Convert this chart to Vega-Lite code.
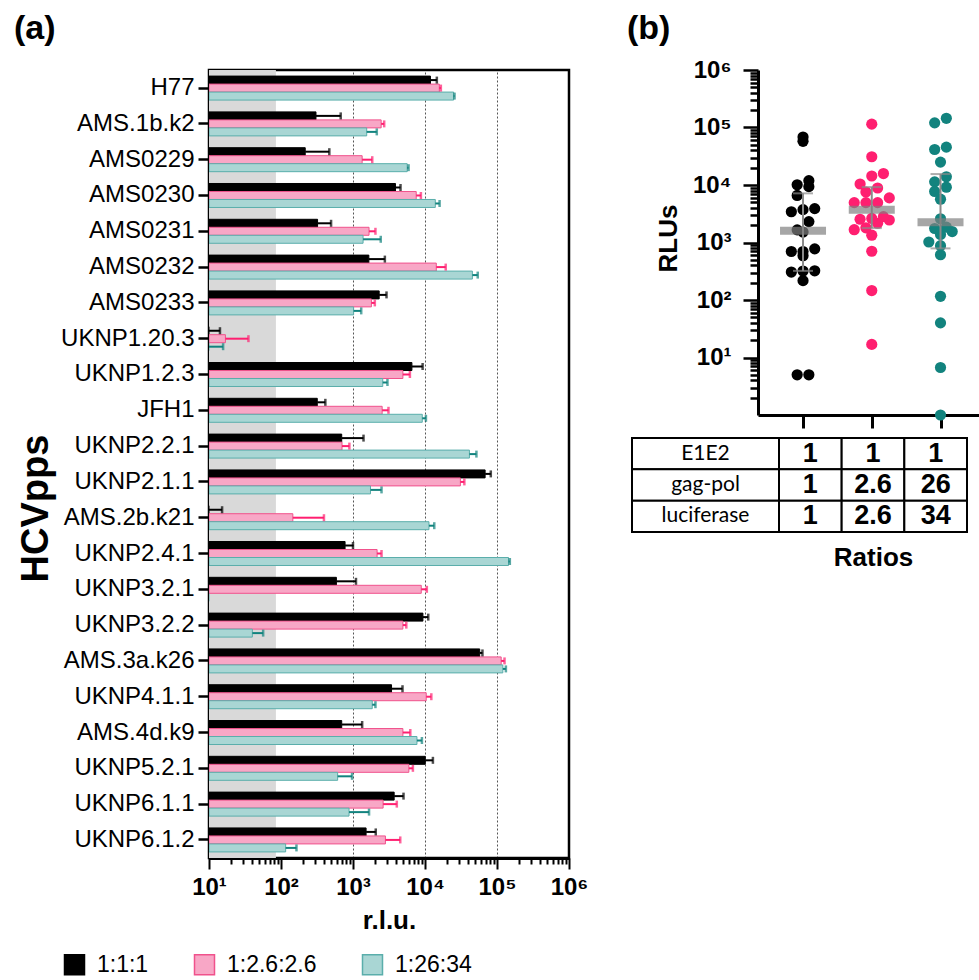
{
  "$schema": "https://vega.github.io/schema/vega-lite/v6.json",
  "padding": {"left": 12, "top": 10, "right": 0, "bottom": 0},
  "background": "white",
  "config": {"view": {"stroke": null}, "font": "Liberation Sans"},
  "datasets": {
    "hcv": [
      {"virus": "H77", "ratio": "1:1:1", "mean": 11900, "upper": 14600},
      {"virus": "H77", "ratio": "1:2.6:2.6", "mean": 15800, "upper": 16600},
      {"virus": "H77", "ratio": "1:26:34", "mean": 25000, "upper": 25700},
      {"virus": "AMS.1b.k2", "ratio": "1:1:1", "mean": 306, "upper": 675},
      {"virus": "AMS.1b.k2", "ratio": "1:2.6:2.6", "mean": 2460, "upper": 2710},
      {"virus": "AMS.1b.k2", "ratio": "1:26:34", "mean": 1550, "upper": 2140},
      {"virus": "AMS0229", "ratio": "1:1:1", "mean": 217, "upper": 469},
      {"virus": "AMS0229", "ratio": "1:2.6:2.6", "mean": 1340, "upper": 1850},
      {"virus": "AMS0229", "ratio": "1:26:34", "mean": 5660, "upper": 5910},
      {"virus": "AMS0230", "ratio": "1:1:1", "mean": 3890, "upper": 4570},
      {"virus": "AMS0230", "ratio": "1:2.6:2.6", "mean": 7550, "upper": 8770},
      {"virus": "AMS0230", "ratio": "1:26:34", "mean": 13900, "upper": 15950},
      {"virus": "AMS0231", "ratio": "1:1:1", "mean": 322, "upper": 496},
      {"virus": "AMS0231", "ratio": "1:2.6:2.6", "mean": 1670, "upper": 2050},
      {"virus": "AMS0231", "ratio": "1:26:34", "mean": 1380, "upper": 2430},
      {"virus": "AMS0232", "ratio": "1:1:1", "mean": 1660, "upper": 2770},
      {"virus": "AMS0232", "ratio": "1:2.6:2.6", "mean": 14350, "upper": 19400},
      {"virus": "AMS0232", "ratio": "1:26:34", "mean": 45500, "upper": 54000},
      {"virus": "AMS0233", "ratio": "1:1:1", "mean": 2310, "upper": 2920},
      {"virus": "AMS0233", "ratio": "1:2.6:2.6", "mean": 1800, "upper": 2010},
      {"virus": "AMS0233", "ratio": "1:26:34", "mean": 1020, "upper": 1300},
      {"virus": "UKNP1.20.3", "ratio": "1:1:1", "mean": 5, "upper": 14.2},
      {"virus": "UKNP1.20.3", "ratio": "1:2.6:2.6", "mean": 16.9, "upper": 35.3},
      {"virus": "UKNP1.20.3", "ratio": "1:26:34", "mean": 6.7, "upper": 15.7},
      {"virus": "UKNP1.2.3", "ratio": "1:1:1", "mean": 6580, "upper": 9270},
      {"virus": "UKNP1.2.3", "ratio": "1:2.6:2.6", "mean": 4930, "upper": 6170},
      {"virus": "UKNP1.2.3", "ratio": "1:26:34", "mean": 2590, "upper": 3010},
      {"virus": "JFH1", "ratio": "1:1:1", "mean": 319, "upper": 413},
      {"virus": "JFH1", "ratio": "1:2.6:2.6", "mean": 2540, "upper": 3110},
      {"virus": "JFH1", "ratio": "1:26:34", "mean": 9160, "upper": 10300},
      {"virus": "UKNP2.2.1", "ratio": "1:1:1", "mean": 697, "upper": 1400},
      {"virus": "UKNP2.2.1", "ratio": "1:2.6:2.6", "mean": 704, "upper": 891},
      {"virus": "UKNP2.2.1", "ratio": "1:26:34", "mean": 41400, "upper": 51800},
      {"virus": "UKNP2.1.1", "ratio": "1:1:1", "mean": 68400, "upper": 82000},
      {"virus": "UKNP2.1.1", "ratio": "1:2.6:2.6", "mean": 31000, "upper": 35200},
      {"virus": "UKNP2.1.1", "ratio": "1:26:34", "mean": 1750, "upper": 2490},
      {"virus": "AMS.2b.k21", "ratio": "1:1:1", "mean": 5, "upper": 15.2},
      {"virus": "AMS.2b.k21", "ratio": "1:2.6:2.6", "mean": 146, "upper": 395},
      {"virus": "AMS.2b.k21", "ratio": "1:26:34", "mean": 11350, "upper": 13450},
      {"virus": "UKNP2.4.1", "ratio": "1:1:1", "mean": 776, "upper": 1000},
      {"virus": "UKNP2.4.1", "ratio": "1:2.6:2.6", "mean": 2160, "upper": 2490},
      {"virus": "UKNP2.4.1", "ratio": "1:26:34", "mean": 144500, "upper": 150700},
      {"virus": "UKNP3.2.1", "ratio": "1:1:1", "mean": 588, "upper": 1100},
      {"virus": "UKNP3.2.1", "ratio": "1:2.6:2.6", "mean": 8870, "upper": 10600},
      {"virus": "UKNP3.2.1", "ratio": "1:26:34", "mean": 1, "upper": 1},
      {"virus": "UKNP3.2.2", "ratio": "1:1:1", "mean": 9360, "upper": 11100},
      {"virus": "UKNP3.2.2", "ratio": "1:2.6:2.6", "mean": 4930, "upper": 5500},
      {"virus": "UKNP3.2.2", "ratio": "1:26:34", "mean": 40, "upper": 56.5},
      {"virus": "AMS.3a.k26", "ratio": "1:1:1", "mean": 57500, "upper": 62800},
      {"virus": "AMS.3a.k26", "ratio": "1:2.6:2.6", "mean": 114300, "upper": 127200},
      {"virus": "AMS.3a.k26", "ratio": "1:26:34", "mean": 120500, "upper": 132900},
      {"virus": "UKNP4.1.1", "ratio": "1:1:1", "mean": 3430, "upper": 4870},
      {"virus": "UKNP4.1.1", "ratio": "1:2.6:2.6", "mean": 10400, "upper": 12240},
      {"virus": "UKNP4.1.1", "ratio": "1:26:34", "mean": 1850, "upper": 2050},
      {"virus": "AMS.4d.k9", "ratio": "1:1:1", "mean": 697, "upper": 1340},
      {"virus": "AMS.4d.k9", "ratio": "1:2.6:2.6", "mean": 4930, "upper": 6250},
      {"virus": "AMS.4d.k9", "ratio": "1:26:34", "mean": 7730, "upper": 9060},
      {"virus": "UKNP5.2.1", "ratio": "1:1:1", "mean": 10090, "upper": 12880},
      {"virus": "UKNP5.2.1", "ratio": "1:2.6:2.6", "mean": 5970, "upper": 6790},
      {"virus": "UKNP5.2.1", "ratio": "1:26:34", "mean": 612, "upper": 970},
      {"virus": "UKNP6.1.1", "ratio": "1:1:1", "mean": 3730, "upper": 5030},
      {"virus": "UKNP6.1.1", "ratio": "1:2.6:2.6", "mean": 2620, "upper": 4060},
      {"virus": "UKNP6.1.1", "ratio": "1:26:34", "mean": 881, "upper": 1670},
      {"virus": "UKNP6.1.2", "ratio": "1:1:1", "mean": 1520, "upper": 2070},
      {"virus": "UKNP6.1.2", "ratio": "1:2.6:2.6", "mean": 2820, "upper": 4530},
      {"virus": "UKNP6.1.2", "ratio": "1:26:34", "mean": 116, "upper": 164}
    ],
    "bg": [{"lo": 10, "hi": 85}],
    "summary": [
      {"ratio": "1:1:1", "med": 1600, "q1": 321, "q3": 7160},
      {"ratio": "1:2.6:2.6", "med": 3720, "q1": 1780, "q3": 9200},
      {"ratio": "1:26:34", "med": 2240, "q1": 790, "q3": 15500}
    ],
    "table": [
      {"row": "E1E2", "col": "1:1:1", "val": "1"},
      {"row": "E1E2", "col": "1:2.6:2.6", "val": "1"},
      {"row": "E1E2", "col": "1:26:34", "val": "1"},
      {"row": "gag-pol", "col": "1:1:1", "val": "1"},
      {"row": "gag-pol", "col": "1:2.6:2.6", "val": "2.6"},
      {"row": "gag-pol", "col": "1:26:34", "val": "26"},
      {"row": "luciferase", "col": "1:1:1", "val": "1"},
      {"row": "luciferase", "col": "1:2.6:2.6", "val": "2.6"},
      {"row": "luciferase", "col": "1:26:34", "val": "34"}
    ]
  },
  "bounds": "flush",
  "spacing": 63,
  "hconcat": [
    {
      "width": 360,
      "height": 788,
      "view": {"stroke": "black", "strokeWidth": 2.5},
      "title": {"text": "(a)", "anchor": "start", "frame": "group", "dx": -195, "offset": -3, "fontSize": 34, "fontWeight": "bold", "font": "Liberation Sans", "color": "black", "baseline": "alphabetic"},
      "layer": [
        {
          "data": {"name": "bg"},
          "mark": {"type": "rect", "color": "#d9d9d9"},
          "encoding": {
            "x": {"field": "lo", "type": "quantitative", "scale": {"type": "log", "domain": [10, 1000000]},
              "axis": {
                "title": "r.l.u.", "titleFontSize": 26, "titleFontWeight": "bold", "titleColor": "black", "titlePadding": 8,
                "values": [10,20,30,40,50,60,70,80,90,100,200,300,400,500,600,700,800,900,1000,2000,3000,4000,5000,6000,7000,8000,9000,10000,20000,30000,40000,50000,60000,70000,80000,90000,100000,200000,300000,400000,500000,600000,700000,800000,900000,1000000],
                "labelExpr": "abs(log(datum.value)/LN10 - round(log(datum.value)/LN10)) < 0.001 ? '10' + ['⁰','¹','²','³','⁴','⁵','⁶'][round(log(datum.value)/LN10)] : ''",
                "labelFontSize": 24, "labelFontWeight": "bold", "labelColor": "black", "labelOverlap": false, "labelFlush": false, "labelBound": false, "labelPadding": 6,
                "tickSize": {"condition": {"test": "abs(log(datum.value)/LN10 - round(log(datum.value)/LN10)) < 0.001", "value": 11}, "value": 6},
                "tickWidth": 2, "tickColor": "black", "domainWidth": 3, "domainColor": "black",
                "grid": true, "gridColor": "#555555", "gridDash": [2, 2], "gridWidth": 1,
                "gridOpacity": {"condition": {"test": "(datum.value == 1000 || datum.value == 10000 || datum.value == 100000)", "value": 1}, "value": 0}
              }},
            "x2": {"field": "hi"}
          }
        },
        {
          "data": {"name": "hcv"},
          "mark": {"type": "bar", "clip": true, "strokeWidth": 1},
          "encoding": {
            "y": {"field": "virus", "type": "nominal", "sort": null,
              "scale": {"paddingInner": 0.33, "paddingOuter": 0.17},
              "axis": {"title": "HCVpps", "titleFontSize": 38, "titleFontWeight": "bold", "titleFont": "Liberation Sans", "titleColor": "black", "titleX": -162, "titleY": 438, "titleAngle": -90, "titleAlign": "center", "titleBaseline": "alphabetic",
                "labelFontSize": 24, "labelFont": "Liberation Sans", "labelColor": "black", "labelPadding": 4, "tickSize": 11, "tickWidth": 2.5, "tickColor": "black", "domainWidth": 3, "domainColor": "black", "labelLimit": 300}},
            "yOffset": {"field": "ratio", "type": "nominal", "sort": ["1:1:1", "1:2.6:2.6", "1:26:34"], "scale": {"paddingInner": 0, "paddingOuter": 0}},
            "x": {"field": "mean", "type": "quantitative", "scale": {"type": "log", "domain": [10, 1000000]},
              "axis": {
                "title": "r.l.u.", "titleFontSize": 26, "titleFontWeight": "bold", "titleColor": "black", "titlePadding": 8,
                "values": [10,20,30,40,50,60,70,80,90,100,200,300,400,500,600,700,800,900,1000,2000,3000,4000,5000,6000,7000,8000,9000,10000,20000,30000,40000,50000,60000,70000,80000,90000,100000,200000,300000,400000,500000,600000,700000,800000,900000,1000000],
                "labelExpr": "abs(log(datum.value)/LN10 - round(log(datum.value)/LN10)) < 0.001 ? '10' + ['⁰','¹','²','³','⁴','⁵','⁶'][round(log(datum.value)/LN10)] : ''",
                "labelFontSize": 24, "labelFontWeight": "bold", "labelColor": "black", "labelOverlap": false, "labelFlush": false, "labelBound": false, "labelPadding": 6,
                "tickSize": {"condition": {"test": "abs(log(datum.value)/LN10 - round(log(datum.value)/LN10)) < 0.001", "value": 11}, "value": 6},
                "tickWidth": 2, "tickColor": "black", "domainWidth": 3, "domainColor": "black",
                "grid": true, "gridColor": "#555555", "gridDash": [2, 2], "gridWidth": 1,
                "gridOpacity": {"condition": {"test": "(datum.value == 1000 || datum.value == 10000 || datum.value == 100000)", "value": 1}, "value": 0}
              }},
            "x2": {"datum": 10},
            "fill": {"field": "ratio", "type": "nominal", "sort": ["1:1:1", "1:2.6:2.6", "1:26:34"],
              "scale": {"domain": ["1:1:1", "1:2.6:2.6", "1:26:34"], "range": ["#000000", "#f8a7c6", "#a9d6d4"]},
              "legend": {"orient": "none", "legendX": -146, "legendY": 883, "direction": "horizontal", "title": null, "symbolType": "square", "symbolSize": 400, "symbolStrokeWidth": 1.5, "labelFontSize": 23, "labelFont": "Liberation Sans", "labelColor": "black", "columnPadding": 42, "labelOffset": 11}},
            "stroke": {"field": "ratio", "type": "nominal", "sort": ["1:1:1", "1:2.6:2.6", "1:26:34"],
              "scale": {"domain": ["1:1:1", "1:2.6:2.6", "1:26:34"], "range": ["#000000", "#f0528c", "#5aaeab"]},
              "legend": {"orient": "none", "legendX": -146, "legendY": 883, "direction": "horizontal", "title": null, "symbolType": "square", "symbolSize": 400, "symbolStrokeWidth": 1.5, "labelFontSize": 23, "labelFont": "Liberation Sans", "labelColor": "black", "columnPadding": 42, "labelOffset": 11}}
          }
        },
        {
          "data": {"name": "hcv"},
          "mark": {"type": "rule", "clip": true, "strokeWidth": 2},
          "encoding": {
            "y": {"field": "virus", "type": "nominal", "sort": null},
            "yOffset": {"field": "ratio", "type": "nominal", "sort": ["1:1:1", "1:2.6:2.6", "1:26:34"]},
            "x": {"field": "mean", "type": "quantitative", "scale": {"type": "log", "domain": [10, 1000000]}},
            "x2": {"field": "upper"},
            "color": {"field": "ratio", "type": "nominal", "scale": {"domain": ["1:1:1", "1:2.6:2.6", "1:26:34"], "range": ["#000000", "#ff1f70", "#12837e"]}, "legend": null}
          }
        },
        {
          "data": {"name": "hcv"},
          "mark": {"type": "tick", "clip": true, "thickness": 2.5, "size": 7},
          "encoding": {
            "y": {"field": "virus", "type": "nominal", "sort": null},
            "yOffset": {"field": "ratio", "type": "nominal", "sort": ["1:1:1", "1:2.6:2.6", "1:26:34"]},
            "x": {"field": "upper", "type": "quantitative", "scale": {"type": "log", "domain": [10, 1000000]}},
            "color": {"field": "ratio", "type": "nominal", "scale": {"domain": ["1:1:1", "1:2.6:2.6", "1:26:34"], "range": ["#000000", "#ff1f70", "#12837e"]}, "legend": null}
          }
        }
      ]
    },
    {
      "width": 347,
      "height": 462,
      "title": {"text": "(b)", "anchor": "start", "frame": "group", "dx": -5, "offset": -15, "fontSize": 34, "fontWeight": "bold", "font": "Liberation Sans", "color": "black", "baseline": "alphabetic"},
      "layer": [
        {
          "layer": [
            {
              "data": {"name": "hcv"},
              "transform": [
                {"calculate": "indexof(['1:1:1','1:2.6:2.6','1:26:34'], datum.ratio) + 1", "as": "grp"},
                {"calculate": "floor(log(datum.mean)/LN10/0.2)", "as": "bin"},
                {"window": [{"op": "row_number", "as": "rk"}], "groupby": ["grp", "bin"], "sort": [{"field": "mean"}]},
                {"joinaggregate": [{"op": "count", "as": "cnt"}], "groupby": ["grp", "bin"]},
                {"calculate": "datum.grp + (datum.rk - (datum.cnt + 1) / 2) * 0.17", "as": "xpos"}
              ],
              "mark": {"type": "circle", "size": 125, "opacity": 1},
              "encoding": {
                "x": {"field": "xpos", "type": "quantitative", "scale": {"domain": [0.345, 3.56], "range": [126, 347], "nice": false, "zero": false},
                  "axis": {"orient": "bottom", "offset": -117, "values": [1, 2, 3], "labels": false, "title": null, "tickSize": 13, "tickWidth": 3, "tickColor": "black", "domainWidth": 3, "domainColor": "black", "grid": false}},
                "y": {"field": "mean", "type": "quantitative", "scale": {"type": "log", "domain": [1, 1000000], "range": [345, 0]},
                  "axis": {
                    "orient": "left", "offset": -126,
                    "title": "RLUs", "titleFontSize": 26, "titleFontWeight": "bold", "titleColor": "black", "titleX": -82, "titleY": 168, "titleAngle": -90, "titleAlign": "center", "titleBaseline": "alphabetic",
                    "values": [2,3,4,5,6,7,8,9,10,20,30,40,50,60,70,80,90,100,200,300,400,500,600,700,800,900,1000,2000,3000,4000,5000,6000,7000,8000,9000,10000,20000,30000,40000,50000,60000,70000,80000,90000,100000,200000,300000,400000,500000,600000,700000,800000,900000,1000000],
                    "labelExpr": "abs(log(datum.value)/LN10 - round(log(datum.value)/LN10)) < 0.001 ? '10' + ['⁰','¹','²','³','⁴','⁵','⁶'][round(log(datum.value)/LN10)] : ''",
                    "labelFontSize": 24, "labelFontWeight": "bold", "labelColor": "black", "labelOverlap": false, "labelFlush": false, "labelBound": false, "labelPadding": 12,
                    "tickSize": {"condition": {"test": "abs(log(datum.value)/LN10 - round(log(datum.value)/LN10)) < 0.001", "value": 15}, "value": 8},
                    "tickWidth": 2.5, "tickColor": "black", "domainWidth": 3, "domainColor": "black", "grid": false
                  }},
                "color": {"field": "ratio", "type": "nominal", "scale": {"domain": ["1:1:1", "1:2.6:2.6", "1:26:34"], "range": ["#000000", "#ff0a6c", "#0e7c78"]}, "legend": null}
              }
            },
            {
              "data": {"name": "summary"},
              "transform": [
                {"calculate": "indexof(['1:1:1','1:2.6:2.6','1:26:34'], datum.ratio) + 1", "as": "grp"}
              ],
              "mark": {"type": "rule", "color": "#8a8a8a", "strokeWidth": 2},
              "encoding": {
                "x": {"field": "grp", "type": "quantitative", "scale": {"domain": [0.345, 3.56], "range": [126, 347], "nice": false, "zero": false}},
                "y": {"field": "q1", "type": "quantitative", "scale": {"type": "log", "domain": [1, 1000000], "range": [345, 0]}},
                "y2": {"field": "q3"}
              }
            },
            {
              "data": {"name": "summary"},
              "transform": [
                {"calculate": "indexof(['1:1:1','1:2.6:2.6','1:26:34'], datum.ratio) + 1", "as": "grp"},
                {"fold": ["q1", "q3"], "as": ["q", "qv"]}
              ],
              "mark": {"type": "tick", "orient": "horizontal", "color": "#8a8a8a", "size": 20, "thickness": 2},
              "encoding": {
                "x": {"field": "grp", "type": "quantitative", "scale": {"domain": [0.345, 3.56], "range": [126, 347], "nice": false, "zero": false}},
                "y": {"field": "qv", "type": "quantitative", "scale": {"type": "log", "domain": [1, 1000000], "range": [345, 0]}}
              }
            },
            {
              "data": {"name": "summary"},
              "transform": [
                {"calculate": "indexof(['1:1:1','1:2.6:2.6','1:26:34'], datum.ratio) + 1", "as": "grp"}
              ],
              "mark": {"type": "tick", "orient": "horizontal", "color": "#808080", "size": 46, "thickness": 8},
              "encoding": {
                "x": {"field": "grp", "type": "quantitative", "scale": {"domain": [0.345, 3.56], "range": [126, 347], "nice": false, "zero": false}},
                "y": {"field": "med", "type": "quantitative", "scale": {"type": "log", "domain": [1, 1000000], "range": [345, 0]}}
              }
            }
          ]
        },
        {
          "data": {"name": "table"},
          "transform": [{"filter": "datum.col == '1:1:1'"}],
          "layer": [
            {
              "mark": {"type": "rect", "fill": "white", "stroke": "black", "strokeWidth": 2},
              "encoding": {
                "x": {"datum": "label", "type": "nominal", "scale": {"range": [0, 147], "paddingInner": 0, "paddingOuter": 0}, "axis": null},
                "y": {"field": "row", "type": "nominal", "sort": null, "scale": {"range": [368, 462], "paddingInner": 0, "paddingOuter": 0}, "axis": null}
              }
            },
            {
              "mark": {"type": "text", "font": "Lato", "fontSize": 21, "color": "black"},
              "encoding": {
                "x": {"datum": "label", "type": "nominal", "axis": null},
                "y": {"field": "row", "type": "nominal", "sort": null, "axis": null},
                "text": {"field": "row"}
              }
            }
          ]
        },
        {
          "data": {"name": "table"},
          "layer": [
            {
              "mark": {"type": "rect", "fill": "white", "stroke": "black", "strokeWidth": 2},
              "encoding": {
                "x": {"field": "col", "type": "nominal", "sort": null, "scale": {"range": [147, 335], "paddingInner": 0, "paddingOuter": 0},
                  "axis": {"orient": "bottom", "domain": false, "ticks": false, "labels": false, "title": "Ratios", "titleFontSize": 26, "titleFontWeight": "bold", "titleColor": "black", "titlePadding": 12}},
                "y": {"field": "row", "type": "nominal", "sort": null, "scale": {"range": [368, 462], "paddingInner": 0, "paddingOuter": 0}, "axis": null}
              }
            },
            {
              "mark": {"type": "text", "font": "Liberation Sans", "fontSize": 27, "fontWeight": "bold", "color": "black"},
              "encoding": {
                "x": {"field": "col", "type": "nominal", "sort": null},
                "y": {"field": "row", "type": "nominal", "sort": null},
                "text": {"field": "val"}
              }
            }
          ]
        }
      ],
      "resolve": {"scale": {"x": "independent", "y": "independent"}, "axis": {"x": "independent", "y": "independent"}}
    }
  ]
}
